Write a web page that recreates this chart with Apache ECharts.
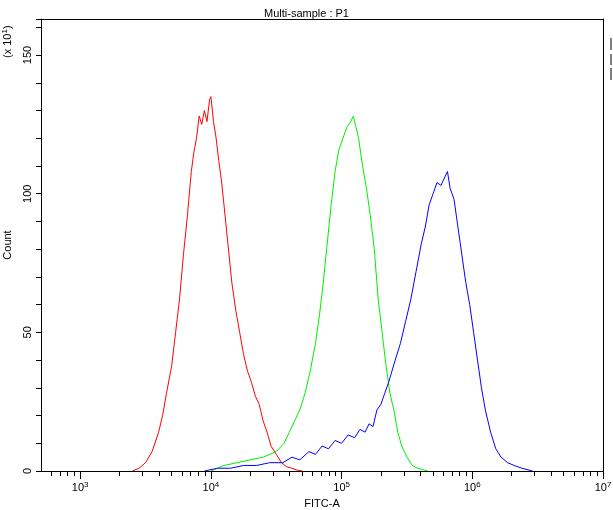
<!DOCTYPE html><html><head><meta charset="utf-8"><script src="https://cdn.jsdelivr.net/npm/echarts@6/dist/echarts.min.js"></script></head><body style="margin:0"><div id="c" style="width:613px;height:510px"></div><script>
const redX=[3.40,3.45,3.50,3.55,3.60,3.63,3.66,3.70,3.73,3.76,3.79,3.82,3.85,3.87,3.89,3.91,3.93,3.95,3.97,3.99,4.00,4.02,4.04,4.06,4.08,4.10,4.13,4.16,4.19,4.22,4.25,4.28,4.31,4.34,4.37,4.40,4.43,4.46,4.50,4.54,4.58,4.62,4.66,4.70];
const redY=[0,1,3,7,14,20,28,38,50,62,78,92,108,115,120,128,125,130,126,134,135,126,120,112,105,96,82,68,58,50,42,36,32,27,24,18,14,9,6,3,1.5,1,0.3,0];
const greenX=[4.00,4.10,4.20,4.30,4.40,4.50,4.56,4.60,4.64,4.68,4.72,4.76,4.80,4.83,4.86,4.89,4.92,4.95,4.98,5.01,5.04,5.07,5.09,5.11,5.13,5.16,5.19,5.22,5.25,5.28,5.31,5.34,5.37,5.40,5.43,5.46,5.50,5.54,5.58,5.62,5.66];
const greenY=[0,2,3,4,5,7,10,14,18,22,28,36,46,56,68,82,96,108,116,120,124,126,128,124,120,110,102,92,80,62,50,38,28,22,14,9,5,2,1,0.5,0];
const blueX=[3.95,4.05,4.15,4.25,4.35,4.45,4.55,4.62,4.68,4.75,4.80,4.85,4.90,4.95,5.00,5.05,5.10,5.14,5.18,5.21,5.24,5.27,5.30,5.33,5.36,5.41,5.45,5.49,5.53,5.57,5.61,5.64,5.67,5.70,5.73,5.76,5.79,5.81,5.83,5.86,5.89,5.92,5.95,5.98,6.01,6.04,6.07,6.10,6.14,6.18,6.22,6.27,6.32,6.38,6.46];
const blueY=[0,1,1,2,2,3,3,5,4,7,6,9,8,11,10,13,12,15,14,17,16,22,24,28,32,40,46,54,62,72,82,88,96,100,104,103,106,108,102,98,88,78,68,60,50,40,30,22,14,8,5,3,2,1,0];
const majorX=[3,4,5,6,7];
const minorX=[];for(let d=2;d<=6;d++)for(let k=2;k<=9;k++){const v=d+Math.log10(k);if(v>=2.7&&v<=7)minorX.push(v);}
const pair=(a,b)=>a.map((v,i)=>[v,b[i]]);
const ch=echarts.init(document.getElementById('c'));
const ln=(d,c)=>({type:'line',data:d,symbol:'none',lineStyle:{color:c,width:1},xAxisIndex:0});
ch.setOption({animation:false,
title:{text:'Multi-sample : P1',left:'center',top:3,textStyle:{fontSize:11,fontWeight:'normal',color:'#000'}},
grid:{left:41,right:10,top:19,bottom:39,outerBoundsMode:'none',containLabel:false},
xAxis:[{type:'value',min:2.7,max:7,name:'FITC-A',nameLocation:'middle',nameGap:24,nameTextStyle:{fontSize:11,color:'#000'},
axisLine:{lineStyle:{color:'#000',width:1}},splitLine:{show:false},
axisTick:{customValues:majorX,length:8,lineStyle:{color:'#000'}},
axisLabel:{customValues:majorX,formatter:v=>'{b|10}{s|'+Math.round(v)+'}',rich:{b:{fontSize:11,color:'#000'},s:{fontSize:8,color:'#000',verticalAlign:'top',padding:[0,0,6,0]}},margin:10}},
{type:'value',min:2.7,max:7,position:'bottom',axisLine:{show:false},splitLine:{show:false},axisLabel:{show:false},
axisTick:{customValues:minorX,length:5,lineStyle:{color:'#000'}}},
{type:'value',min:2.7,max:7,position:'top',axisLine:{lineStyle:{color:'#000'}},axisTick:{show:false},axisLabel:{show:false},splitLine:{show:false}}],
yAxis:[{type:'value',min:0,max:163,interval:10,name:'Count',nameLocation:'middle',nameGap:28,nameTextStyle:{fontSize:11,color:'#000'},
axisLine:{show:true,lineStyle:{color:'#000'}},splitLine:{show:false},axisTick:{length:5,lineStyle:{color:'#000'}},
axisLabel:{rotate:90,fontSize:11,color:'#000',margin:8,formatter:v=>v%50===0?v:''}},
{type:'value',min:0,max:163,position:'right',axisLine:{show:true,lineStyle:{color:'#000'}},axisTick:{show:false},axisLabel:{show:false},splitLine:{show:false}}],
graphic:[{type:'text',rotation:Math.PI/2,x:8,y:58,style:{text:'{a|(x 10}{s|1}{a|)}',align:'left',verticalAlign:'middle',rich:{a:{fontSize:11,fill:'#000'},s:{fontSize:8,fill:'#000',verticalAlign:'top',padding:[0,0,6,0]}}}},
{type:'line',shape:{x1:611,y1:38,x2:611,y2:50},style:{stroke:'#000'}},
{type:'line',shape:{x1:611,y1:54,x2:611,y2:65},style:{stroke:'#000'}},
{type:'line',shape:{x1:611,y1:68,x2:611,y2:80},style:{stroke:'#000'}}],
series:[ln(pair(redX,redY),'#ff0000'),ln(pair(greenX,greenY),'#00ee00'),ln(pair(blueX,blueY),'#0000ff')]});
</script></body></html>
